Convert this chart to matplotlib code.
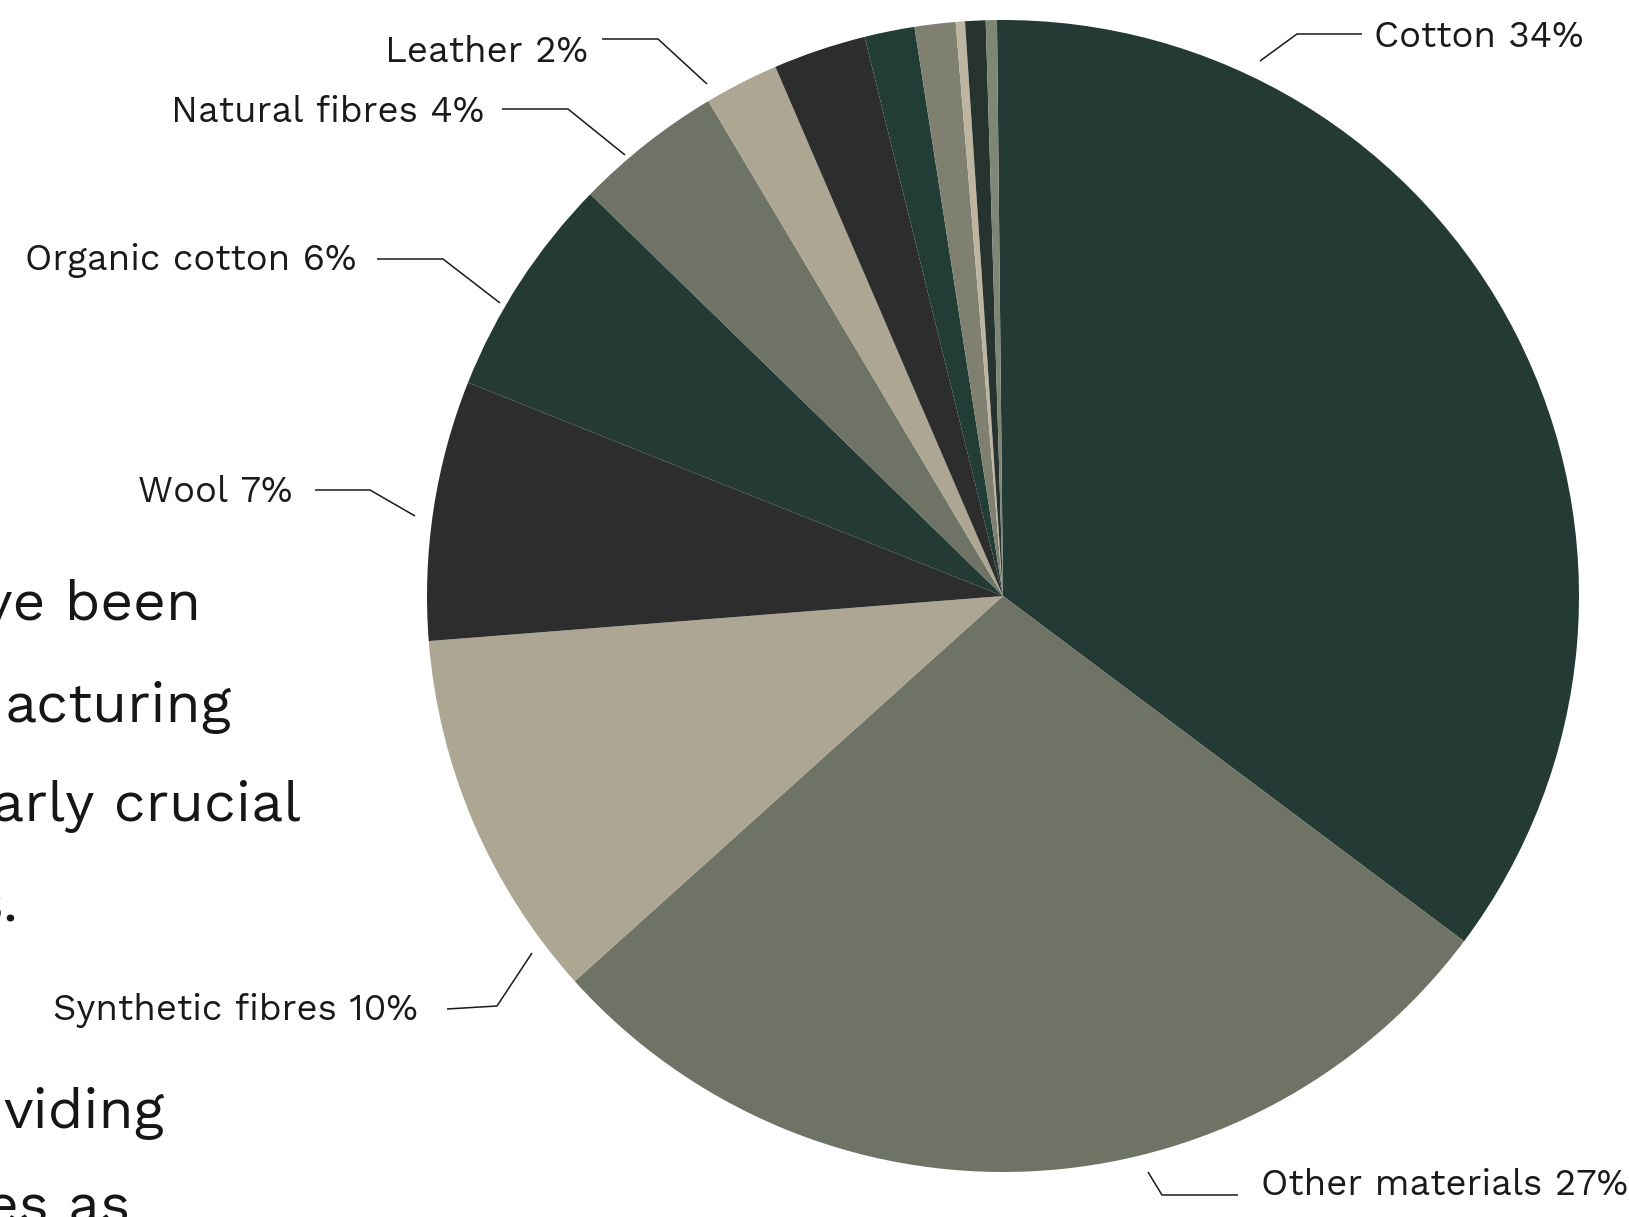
import matplotlib
matplotlib.use("Agg")
import matplotlib.pyplot as plt

# Share of materials used (percent), clockwise from 12 o'clock
materials = ["Cotton", "Other materials", "Synthetic fibres", "Wool",
             "Organic cotton", "Natural fibres", "Leather",
             "", "", "", "", "", ""]
shares = [34, 27, 10, 7, 6, 4, 2, 2.5, 1.35, 1.1, 0.25, 0.55, 0.3]

slice_colors = ["#243a34", "#6f7366", "#aca692", "#2d2d2d",
                "#243a34", "#6f7366", "#aca692", "#2d2d2d",
                "#223d35", "#7f8070", "#bdb5a0", "#27332f", "#7e8676"]

# Fragments of the surrounding body copy: (text, right edge px, baseline px)
body_lines = [("ve been", 201, 620), ("acturing", 231, 722),
              ("arly crucial", 301, 821), ("s.", 19, 922),
              ("viding", 164, 1128), ("es as", 130, 1224)]

W, H = 1629, 1217
fig = plt.figure(figsize=(W / 100, H / 100), dpi=100)
clip_right = 1574
ax = fig.add_axes([0, 0, clip_right / W, 1])

cx, cy, r = 1003, 596, 576
ax.pie(shares, colors=slice_colors, startangle=90.6, counterclock=False,
       center=(cx, H - cy), radius=r, wedgeprops=dict(linewidth=0))
ax.set_aspect("auto")
ax.set_xlim(0, clip_right)
ax.set_ylim(0, H)
ax.axis("off")

# Callout layout: text anchor (x, baseline), alignment, leader polyline (px, top-left origin)
callouts = {
    "Cotton": ((1374, 47), "left", [(1362, 34), (1297, 34), (1260, 61)]),
    "Other materials": ((1261, 1195), "left", [(1238, 1195), (1162, 1195), (1148, 1172)]),
    "Synthetic fibres": ((418, 1020), "right", [(447, 1009), (497, 1006), (532, 953)]),
    "Wool": ((292, 502), "right", [(315, 490), (370, 490), (415, 516)]),
    "Organic cotton": ((356, 270), "right", [(377, 259), (443, 259), (500, 303)]),
    "Natural fibres": ((484, 122), "right", [(502, 109), (568, 109), (625, 155)]),
    "Leather": ((588, 62), "right", [(602, 39), (658, 39), (707, 84)]),
}

families = ["Work Sans", "DejaVu Sans"]
label_font = dict(family=families, fontweight=300, fontsize=26.3, color="#1a1a1a")
for name, share in zip(materials, shares):
    if name not in callouts:
        continue
    (tx, ty), ha, pts = callouts[name]
    ax.text(tx, H - ty, f"{name} {share:g}%", ha=ha, va="baseline", **label_font)
    xs = [p[0] for p in pts]
    ys = [H - p[1] for p in pts]
    ax.plot(xs, ys, color="#1a1a1a", lw=1.1, clip_on=False, solid_capstyle="butt")

for text, right, base in body_lines:
    fig.text(right / W, 1 - base / H, text, ha="right", va="baseline",
             family=families, fontweight=300, fontsize=41, color="#161616")

fig.savefig("out.png", dpi=100, facecolor="white")
